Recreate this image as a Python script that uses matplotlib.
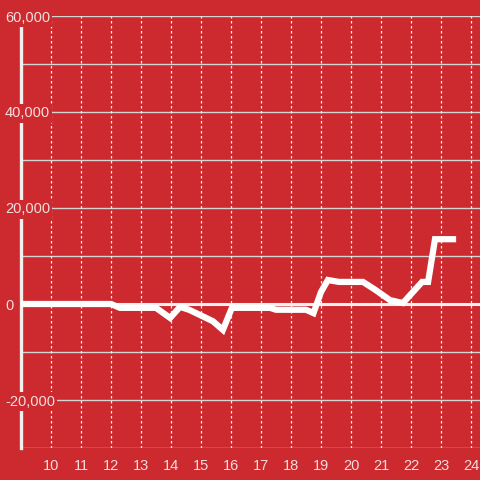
import matplotlib
matplotlib.use("Agg")
import matplotlib.pyplot as plt

# values
hours = [9, 12.0, 12.3, 13.5, 13.97, 14.3, 14.6, 14.97, 15.4, 15.73, 16.03, 17.3,
         17.5, 18.5, 18.75, 19.0, 19.23, 19.6, 20.4, 20.8, 21.3, 21.73, 22.37,
         22.57, 22.8, 23.4]
values = [0, 0, -800, -800, -2900, -600, -1200, -2300, -3600, -5400, -800, -800,
          -1200, -1200, -1900, 2500, 5000, 4600, 4600, 3000, 800, 200, 4600,
          4600, 13500, 13500]
xticks = list(range(10, 25))
yticks = [-20000, 0, 20000, 40000, 60000]
ylabels = ["-20,000", "0", "20,000", "40,000", "60,000"]

red = "#cc2a2f"
txt = "#f3dede"
plt.rcParams['font.family'] = ['Liberation Sans', 'DejaVu Sans']

fig = plt.figure(figsize=(4.8, 4.8), dpi=100, facecolor=red)
ax = fig.add_axes([21/480, 32/480, 459/480, 432/480], facecolor=red)
ax.set_xlim(9, 24.3)
ax.set_ylim(-30000, 60000)

# horizontal grid every 10k
for yv in range(-30000, 60001, 10000):
    ax.axhline(yv, color="#d4d4d4", lw=1.0, zorder=1)
for xv in xticks:
    ax.axvline(xv, color="#f0f0f0", lw=0.9, ls=(0, (2, 2)), zorder=1)
ax.axhline(0, color="#f5f0f0", lw=2.2, zorder=2)

ax.plot(hours, values, color="white", lw=4.5, solid_joinstyle="miter", zorder=3)

for s in ["top", "right", "bottom"]:
    ax.spines[s].set_visible(False)
ax.spines["left"].set_color("#f5f0f0")
ax.spines["left"].set_linewidth(2.4)
ax.spines["left"].set_zorder(2)

ax.set_xticks(xticks)
ax.set_xticklabels([str(x) for x in xticks])
ax.set_yticks(yticks)
ax.set_yticklabels(ylabels)
ax.tick_params(axis="both", length=0, colors=txt, labelsize=10.5)
ax.tick_params(axis="x", pad=8)
ax.tick_params(axis="y", pad=11.5)
ax.yaxis.set_zorder(5)
for lab in ax.get_yticklabels():
    lab.set_horizontalalignment("left")
    lab.set_bbox(dict(facecolor=red, edgecolor="none", pad=1.5))

fig.savefig("out.png", dpi=100, facecolor=red)
